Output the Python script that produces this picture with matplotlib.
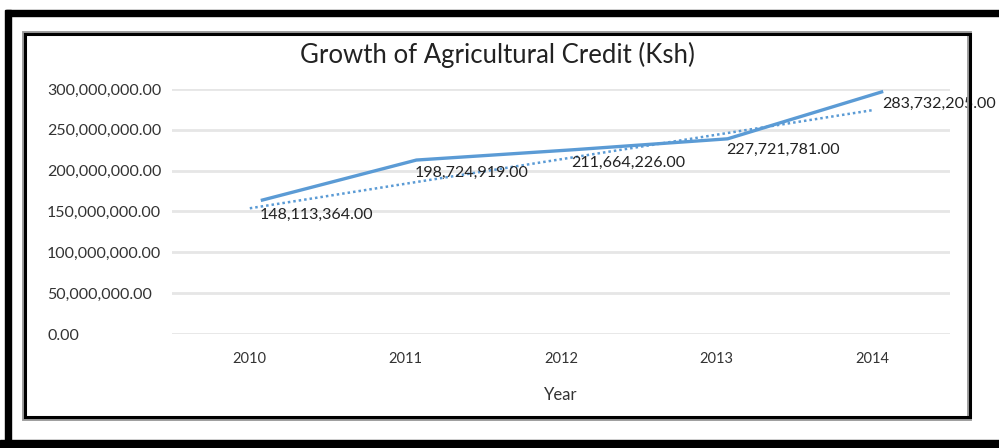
import numpy as np
import matplotlib
matplotlib.use("Agg")
import matplotlib.pyplot as plt
import matplotlib.transforms as mtransforms
from matplotlib.patches import Rectangle
from matplotlib.ticker import FuncFormatter

plt.rcParams['font.family'] = ['Lato', 'DejaVu Sans']

# data
years = ['2010', '2011', '2012', '2013', '2014']
credit = [148113364.00, 198724919.00, 211664226.00, 227721781.00, 283732205.00]
# the solid line in the source sits a bit above the labelled values
line_drawn = [163.5e6, 213e6, 225.5e6, 239e6, 297e6]
yticks = [0, 50e6, 100e6, 150e6, 200e6, 250e6, 300e6]

W, H = 999, 448
fig = plt.figure(figsize=(W / 100, H / 100), dpi=100)

def fx(px):
    return px / W

def fy(py):
    return 1 - py / H

ax = fig.add_axes([fx(172), fy(334), fx(950) - fx(172), fy(89) - fy(334)])
x = np.arange(len(years))
blue = '#5B9BD5'

ax.set_ylim(0, 300e6)
ax.set_xlim(-0.5, len(years) - 0.5)
ax.set_yticks(yticks)
ax.yaxis.set_major_formatter(FuncFormatter(lambda v, p: f'{v:,.2f}'))
ax.set_xticks(x)
ax.set_xticklabels(years)
ax.grid(axis='y', color='#e6e6e6', linewidth=2)
ax.set_axisbelow(True)
for s in ax.spines.values():
    s.set_visible(False)
ax.tick_params(axis='y', length=0, pad=90, labelsize=11.5, labelcolor='#333333')
ax.tick_params(axis='x', length=0, pad=13, labelsize=10.5, labelcolor='#333333')
for lab in ax.get_yticklabels():
    lab.set_horizontalalignment('left')

# solid line, shifted right like in the source picture
shift = mtransforms.ScaledTranslation(11 / 100, 0, fig.dpi_scale_trans)
ax.plot(x, line_drawn, color=blue, linewidth=2.4, transform=ax.transData + shift,
        solid_capstyle='butt', zorder=3)

# linear trendline
k, b = np.polyfit(x, credit, 1)
ax.plot(x, k * x + b, color=blue, linewidth=1.8, linestyle=(0, (1, 1.2)), zorder=2)

for xi, v in zip(x, credit):
    ax.annotate(f'{v:,.2f}', (xi, v), xytext=(7, -1), textcoords='offset points',
                ha='left', va='center', fontsize=11.5, color='#222222',
                annotation_clip=False, zorder=4)

ax.set_xlabel('Year', fontsize=12, color='#333333', labelpad=15)
fig.text(fx(497), fy(55), 'Growth of Agricultural Credit (Ksh)', ha='center', va='center',
         fontsize=18.5, color='#222222')

# inner frame (with gray shadow) and outer black frame
fig.add_artist(Rectangle((fx(24), fy(418)), fx(969) - fx(24), fy(33) - fy(418),
                         fill=False, edgecolor='#999999', linewidth=3.5,
                         transform=fig.transFigure, zorder=5))
fig.add_artist(Rectangle((fx(25), fy(417)), fx(970) - fx(25), fy(34) - fy(417),
                         fill=False, edgecolor='black', linewidth=2.2,
                         transform=fig.transFigure, zorder=6))
fig.add_artist(Rectangle((fx(6), fy(16)), fx(999) - fx(6), fy(10) - fy(16),
                         color='black', transform=fig.transFigure, zorder=6))
fig.add_artist(Rectangle((fx(5), fy(440)), fx(11) - fx(5), fy(10) - fy(440),
                         color='black', transform=fig.transFigure, zorder=6))
fig.add_artist(Rectangle((fx(0), fy(448)), fx(999), fy(440) - fy(448),
                         color='black', transform=fig.transFigure, zorder=6))

fig.savefig('out.png', dpi=100)
